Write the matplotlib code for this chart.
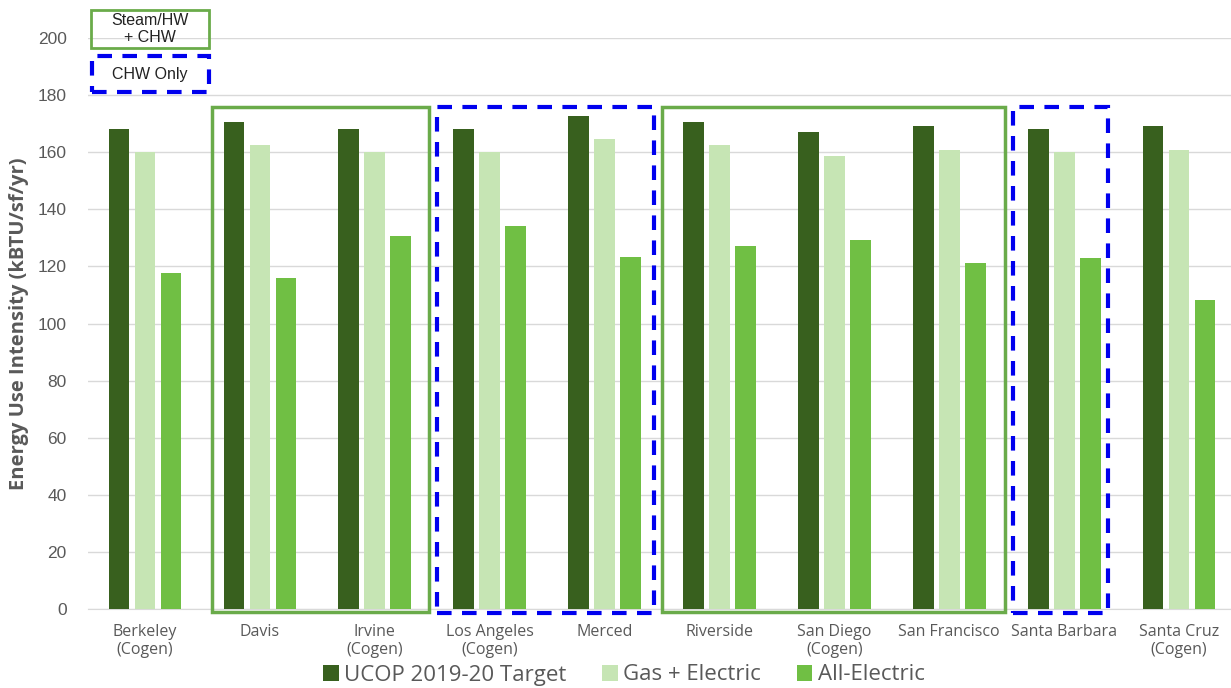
import matplotlib
matplotlib.use("Agg")
import matplotlib.pyplot as plt
from matplotlib.patches import Rectangle
import numpy as np

campuses = ["Berkeley\n(Cogen)", "Davis", "Irvine\n(Cogen)", "Los Angeles\n(Cogen)", "Merced",
            "Riverside", "San Diego\n(Cogen)", "San Francisco", "Santa Barbara", "Santa Cruz\n(Cogen)"]
ucop_target = [168, 170.6, 168, 168, 172.7, 170.6, 167, 169.2, 168, 169.2]
gas_electric = [160, 162.5, 160, 160, 164.6, 162.5, 158.7, 160.8, 160, 160.8]
all_electric = [117.7, 115.9, 130.6, 134.1, 123.3, 127.1, 129.2, 121.2, 122.9, 108.2]
series_names = ["UCOP 2019-20 Target", "Gas + Electric", "All-Electric"]
yticks = [0, 20, 40, 60, 80, 100, 120, 140, 160, 180, 200]

# group kinds and box extents (layout, in axis data units)
group_kinds = ["steam", "chw", "steam", "chw"]
group_box_x = [(0.583, 2.472), (2.541, 4.430), (4.500, 7.485), (7.554, 8.381)]

c_dark = "#38601E"
c_light = "#C6E5B4"
c_mid = "#70BF44"
c_box = "#6AAB4A"
c_blue = "#0000EE"
gray = "#595959"

fig = plt.figure(figsize=(12.31, 6.88), dpi=100)
step = 114.9
ax_left = 145 - 0.5 * step
ax_right = 145 + 9.5 * step
ax = fig.add_axes([ax_left/1231, 1-609/688, (ax_right-ax_left)/1231, (609-38)/688])

x = np.arange(len(campuses))
off = 0.226
w = 0.18
b1 = ax.bar(x - off, ucop_target, w, color=c_dark, label=series_names[0], zorder=3)
b2 = ax.bar(x, gas_electric, w, color=c_light, label=series_names[1], zorder=3)
b3 = ax.bar(x + off, all_electric, w, color=c_mid, label=series_names[2], zorder=3)

ax.set_xlim(-0.5, len(campuses) - 0.5)
ax.set_ylim(0, 200)
ax.set_yticks(yticks)
ax.yaxis.grid(True, color="#D9D9D9", linewidth=1, zorder=0)
ax.set_axisbelow(True)
for s in ["top", "right", "left"]:
    ax.spines[s].set_visible(False)
ax.spines["bottom"].set_color("#D9D9D9")
ax.tick_params(axis="both", length=0)
ax.tick_params(axis="y", labelsize=12.5, labelcolor=gray, pad=15)
ax.set_xticks(x)
ax.set_xticklabels(campuses, fontsize=11.5, color=gray, family="Open Sans", linespacing=1.15)
ax.tick_params(axis="x", pad=11)
for t in ax.get_yticklabels():
    t.set_family("Liberation Sans")
ax.set_ylabel("Energy Use Intensity (kBTU/sf/yr)", fontsize=14.5, fontweight="bold",
              color=gray, family="Open Sans", labelpad=6)

# group boxes
for kind, (left, right) in zip(group_kinds, group_box_x):
    if kind == "steam":
        r = Rectangle((left, -1.05), right - left, 176.85, fill=False, edgecolor=c_box,
                      linewidth=2.5, clip_on=False, zorder=4)
    else:
        r = Rectangle((left, -1.3), right - left, 177.1, fill=False, edgecolor=c_blue,
                      linewidth=3, linestyle=(0, (3.5, 2.5)), clip_on=False, zorder=4)
    ax.add_patch(r)

# key boxes (figure pixel coords)
def fig_rect(x0, y0, x1, y1, **kw):
    r = Rectangle((x0/1231, 1-y1/688), (x1-x0)/1231, (y1-y0)/688,
                  transform=fig.transFigure, fill=False, **kw)
    fig.patches.append(r)

fig_rect(91, 10, 209, 48, edgecolor=c_box, linewidth=2)
fig.text(150/1231, 1-29/688, "Steam/HW\n+ CHW", ha="center", va="center", fontsize=11.5,
         family="Liberation Sans", color="#222222", linespacing=1.2)
fig_rect(92, 56, 209, 92, edgecolor=c_blue, linewidth=3, linestyle=(0, (3.5, 2.5)))
fig.text(150/1231, 1-74/688, "CHW Only", ha="center", va="center", fontsize=11.5,
         family="Liberation Sans", color="#222222")

leg = fig.legend(handles=[b1, b2, b3], labels=series_names, loc="center",
                 bbox_to_anchor=(624/1231, 1-675/688), ncol=3, frameon=False,
                 handlelength=0.7, handleheight=0.7, handletextpad=0.25, columnspacing=1.6,
                 prop={"family": "Open Sans", "size": 16})
for t in leg.get_texts():
    t.set_color(gray)

fig.savefig("out.png", dpi=100)
